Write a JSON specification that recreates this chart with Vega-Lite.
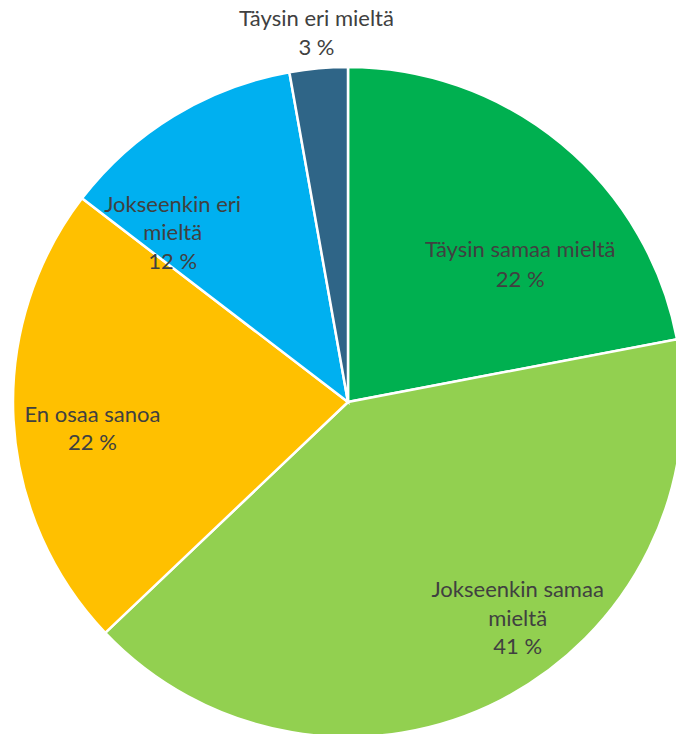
{
  "$schema": "https://vega.github.io/schema/vega-lite/v6.json",
  "width": 656,
  "height": 664,
  "autosize": {"type": "none"},
  "padding": {"left": 20, "top": 70, "right": 0, "bottom": 0},
  "background": "white",
  "view": {"stroke": null},
  "data": {
    "values": [
      {"i": 1, "cat": "Täysin samaa mieltä", "value": 22.0, "label": "Täysin samaa mieltä\n22 %"},
      {"i": 2, "cat": "Jokseenkin samaa mieltä", "value": 40.9, "label": "Jokseenkin samaa\nmieltä\n41 %"},
      {"i": 3, "cat": "En osaa sanoa", "value": 22.5, "label": "En osaa sanoa\n22 %"},
      {"i": 4, "cat": "Jokseenkin eri mieltä", "value": 11.8, "label": "Jokseenkin eri\nmieltä\n12 %"},
      {"i": 5, "cat": "Täysin eri mieltä", "value": 2.8, "label": "Täysin eri mieltä\n3 %"}
    ]
  },
  "encoding": {
    "theta": {"field": "value", "type": "quantitative", "stack": true},
    "order": {"field": "i", "type": "quantitative"}
  },
  "layer": [
    {
      "mark": {"type": "arc", "radius": 335, "stroke": "white", "strokeWidth": 2.5},
      "encoding": {
        "color": {
          "field": "cat",
          "type": "nominal",
          "legend": null,
          "scale": {
            "domain": ["Täysin samaa mieltä", "Jokseenkin samaa mieltä", "En osaa sanoa", "Jokseenkin eri mieltä", "Täysin eri mieltä"],
            "range": ["#00B050", "#92D050", "#FFC000", "#00B0F0", "#2F6587"]
          }
        }
      }
    },
    {
      "mark": {"type": "text", "radius": 220, "dx": 32, "dy": 18, "font": "Lato", "fontSize": 22, "lineHeight": 29.5, "lineBreak": "\n", "align": "center", "baseline": "middle", "color": "#404040"},
      "encoding": {"text": {"condition": {"test": "datum.i === 1", "field": "label"}, "value": ""}}
    },
    {
      "mark": {"type": "text", "radius": 240, "dx": 60, "dy": -25, "font": "Lato", "fontSize": 22, "lineHeight": 28.3, "lineBreak": "\n", "align": "center", "baseline": "middle", "color": "#404040"},
      "encoding": {"text": {"condition": {"test": "datum.i === 2", "field": "label"}, "value": ""}}
    },
    {
      "mark": {"type": "text", "radius": 256, "dx": 0, "dy": -1, "font": "Lato", "fontSize": 22, "lineHeight": 28.3, "lineBreak": "\n", "align": "center", "baseline": "middle", "color": "#404040"},
      "encoding": {"text": {"condition": {"test": "datum.i === 3", "field": "label"}, "value": ""}}
    },
    {
      "mark": {"type": "text", "radius": 245, "dx": -48, "dy": 12, "font": "Lato", "fontSize": 22, "lineHeight": 28.5, "lineBreak": "\n", "align": "center", "baseline": "middle", "color": "#404040"},
      "encoding": {"text": {"condition": {"test": "datum.i === 4", "field": "label"}, "value": ""}}
    },
    {
      "mark": {"type": "text", "radius": 371, "dx": 1, "dy": -13, "font": "Lato", "fontSize": 22, "lineHeight": 28.3, "lineBreak": "\n", "align": "center", "baseline": "middle", "color": "#404040"},
      "encoding": {"text": {"condition": {"test": "datum.i === 5", "field": "label"}, "value": ""}}
    }
  ]
}
